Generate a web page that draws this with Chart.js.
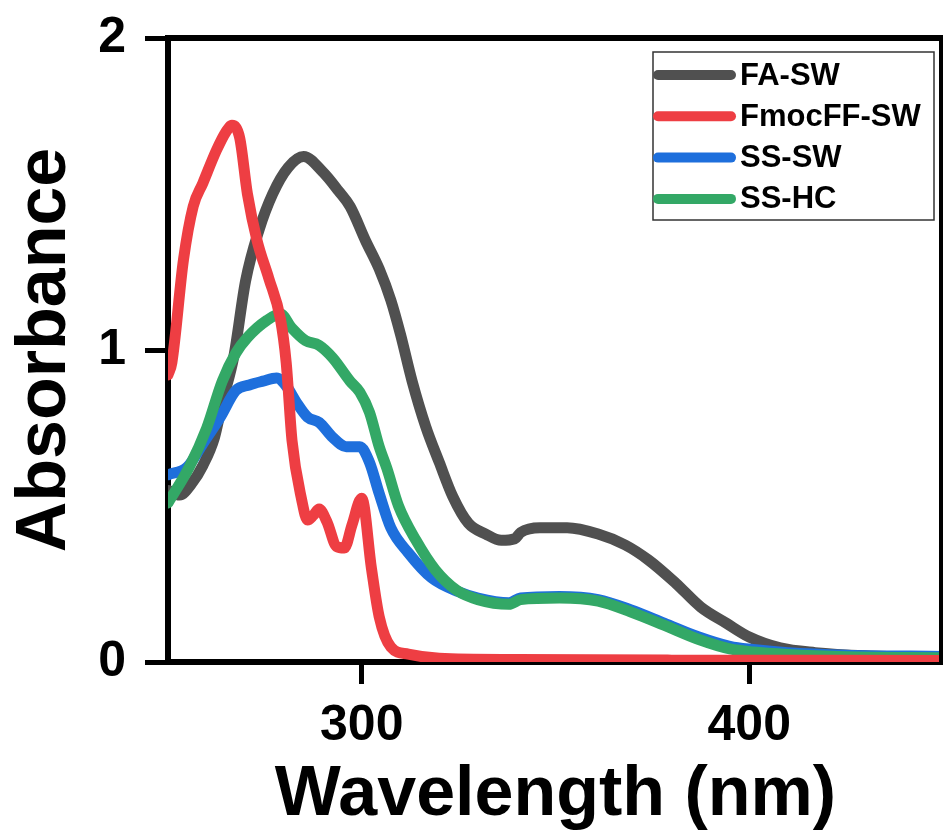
<!DOCTYPE html>
<html>
<head>
<meta charset="utf-8">
<script src="https://cdn.jsdelivr.net/npm/chart.js@4.4.0/dist/chart.umd.min.js"></script>
<style>
  html, body { margin: 0; padding: 0; background: #fff; }
  #wrap { width: 943px; height: 834px; }
</style>
</head>
<body>
<div id="wrap"><canvas id="canvas" width="943" height="834"></canvas></div>
<script>
var seriesNames = ["FA-SW", "FmocFF-SW", "SS-SW", "SS-HC"];
var seriesColors = ["#505050", "#ee3e43", "#1e6fdc", "#33a866"];
var xTicks = [300, 400];
var yTicks = [0, 1, 2];

// FA-SW
var faWl = [250, 253, 256, 259, 262, 264, 267, 270, 273.5, 277, 281, 285, 290, 294, 297, 301, 304.5, 307.5, 310, 313, 316.5, 320, 323.5, 327.5, 332, 336, 339.5, 341, 346, 353, 361, 368, 374, 381, 387.5, 394, 400, 408, 417, 430, 450];
var faAbs = [0.55, 0.535, 0.57, 0.63, 0.72, 0.83, 0.98, 1.22, 1.385, 1.50, 1.585, 1.62, 1.57, 1.51, 1.46, 1.35, 1.26, 1.16, 1.05, 0.90, 0.755, 0.64, 0.53, 0.445, 0.41, 0.39, 0.395, 0.415, 0.43, 0.43, 0.41, 0.375, 0.327, 0.253, 0.176, 0.125, 0.08, 0.045, 0.03, 0.02, 0.015];

// FmocFF-SW
var fmocWl = [250, 251, 254, 256.5, 259, 262.5, 265, 266.5, 268.5, 270.5, 273, 276, 279, 280.5, 282, 284.5, 286, 287.5, 289, 291, 293.5, 295.5, 297.5, 300, 302.5, 304.5, 307.5, 312, 320, 340, 380, 450];
var fmocAbs = [0.92, 0.96, 1.29, 1.46, 1.535, 1.64, 1.70, 1.72, 1.68, 1.50, 1.35, 1.23, 1.10, 0.96, 0.71, 0.52, 0.455, 0.47, 0.49, 0.45, 0.37, 0.365, 0.44, 0.525, 0.30, 0.145, 0.048, 0.025, 0.012, 0.008, 0.006, 0.005];

// SS-SW
var sswWl = [250, 255, 259, 263.5, 267.5, 271, 274.5, 278, 280.5, 283, 286, 289, 292.5, 296, 299.5, 302, 304.5, 307.5, 312, 318, 325, 330, 338, 341, 351, 361, 369.5, 378, 387, 395, 401, 410, 425, 450];
var sswAbs = [0.60, 0.625, 0.70, 0.785, 0.87, 0.888, 0.90, 0.91, 0.885, 0.835, 0.785, 0.768, 0.72, 0.69, 0.69, 0.64, 0.54, 0.43, 0.35, 0.27, 0.225, 0.205, 0.19, 0.205, 0.21, 0.2, 0.167, 0.125, 0.08, 0.05, 0.04, 0.03, 0.022, 0.018];

// SS-HC
var sshWl = [250, 255.5, 260, 264, 267.5, 270.5, 275.5, 279, 282, 285.5, 289, 292.5, 297, 299.5, 302, 304.5, 306.5, 309.5, 314, 319, 324.5, 330, 338, 341, 351, 361, 369.5, 378, 387, 395, 401, 410, 425, 450];
var sshAbs = [0.51, 0.625, 0.75, 0.90, 0.99, 1.04, 1.095, 1.115, 1.07, 1.03, 1.015, 0.975, 0.90, 0.865, 0.80, 0.69, 0.62, 0.50, 0.39, 0.295, 0.23, 0.20, 0.185, 0.20, 0.205, 0.195, 0.16, 0.118, 0.072, 0.042, 0.032, 0.024, 0.017, 0.014];

function pts(wl, ab){
  return wl.map(function(w, i){ return {x: w, y: ab[i]}; });
}

var allData = [pts(faWl, faAbs), pts(fmocWl, fmocAbs), pts(sswWl, sswAbs), pts(sshWl, sshAbs)];
// draw order: red under, then grey, blue, green on top
var drawOrder = [1, 3, 2, 0];

var FONT = "'Liberation Sans', Arial, sans-serif";

// frame (top / right) and boxed legend
var framePlugin = {
  id: 'frameLegend',
  afterDraw: function(chart){
    var ctx = chart.ctx, a = chart.chartArea;
    ctx.save();
    ctx.strokeStyle = "#000";
    ctx.lineWidth = 6;
    ctx.beginPath();
    ctx.moveTo(a.left - 3, a.top);
    ctx.lineTo(a.right, a.top);
    ctx.stroke();
    ctx.lineWidth = 4;
    ctx.beginPath();
    ctx.moveTo(a.right - 2, a.top);
    ctx.lineTo(a.right - 2, a.bottom);
    ctx.stroke();

    // legend
    var bx = 653, by = 52, bw = 281, bh = 168;
    ctx.fillStyle = "#fff";
    ctx.fillRect(bx, by, bw, bh);
    ctx.lineWidth = 1.5;
    ctx.strokeStyle = "#333";
    ctx.strokeRect(bx, by, bw, bh);
    ctx.font = "bold 31px " + FONT;
    ctx.textBaseline = "middle";
    ctx.lineCap = "round";
    for (var i = 0; i < seriesNames.length; i++) {
      var yy = 75 + i * 41.3;
      ctx.strokeStyle = seriesColors[i];
      ctx.lineWidth = 10;
      ctx.beginPath();
      ctx.moveTo(bx + 5, yy);
      ctx.lineTo(bx + 78, yy);
      ctx.stroke();
      ctx.fillStyle = "#000";
      ctx.fillText(seriesNames[i], 740, yy + 1);
    }
    ctx.restore();
  }
};

var datasets = drawOrder.map(function(k){
  return {
    label: seriesNames[k],
    data: allData[k],
    borderColor: seriesColors[k],
    backgroundColor: seriesColors[k],
    borderWidth: 11,
    pointRadius: 0,
    fill: false,
    cubicInterpolationMode: 'monotone',
    borderCapStyle: 'round',
    borderJoinStyle: 'round'
  };
});

new Chart(document.getElementById("canvas"), {
  type: 'line',
  data: { datasets: datasets },
  options: {
    responsive: false,
    animation: false,
    layout: { padding: { top: 38, right: 0, left: 0, bottom: 0 } },
    plugins: { legend: { display: false }, tooltip: { enabled: false } },
    scales: {
      x: {
        type: 'linear',
        min: 250,
        max: 450,
        afterFit: function(s){ s.height = 172; s.paddingLeft = 0; s.paddingRight = 0; },
        afterBuildTicks: function(s){ s.ticks = xTicks.map(function(v){ return {value: v}; }); },
        border: { display: true, color: "#000", width: 6 },
        grid: { drawOnChartArea: false, drawTicks: true, tickLength: 22, tickWidth: 5, tickColor: "#000" },
        ticks: { color: "#000", padding: 12, maxRotation: 0, font: { family: FONT, size: 50, weight: 'bold' } },
        title: { display: true, text: "Wavelength (nm)", color: "#000", padding: { top: 0, bottom: -4 }, font: { family: FONT, size: 70, weight: 'bold' } }
      },
      y: {
        min: 0,
        max: 2,
        afterFit: function(s){ s.width = 168; s.paddingTop = 0; s.paddingBottom = 0; },
        afterBuildTicks: function(s){ s.ticks = yTicks.map(function(v){ return {value: v}; }); },
        border: { display: true, color: "#000", width: 6 },
        grid: { drawOnChartArea: false, drawTicks: true, tickLength: 23, tickWidth: 5, tickColor: "#000" },
        ticks: { color: "#000", padding: 19, font: { family: FONT, size: 50, weight: 'bold' } },
        title: { display: true, text: "Absorbance", color: "#000", padding: { top: 4, bottom: 0 }, font: { family: FONT, size: 70, weight: 'bold' } }
      }
    }
  },
  plugins: [framePlugin]
});
</script>
</body>
</html>
